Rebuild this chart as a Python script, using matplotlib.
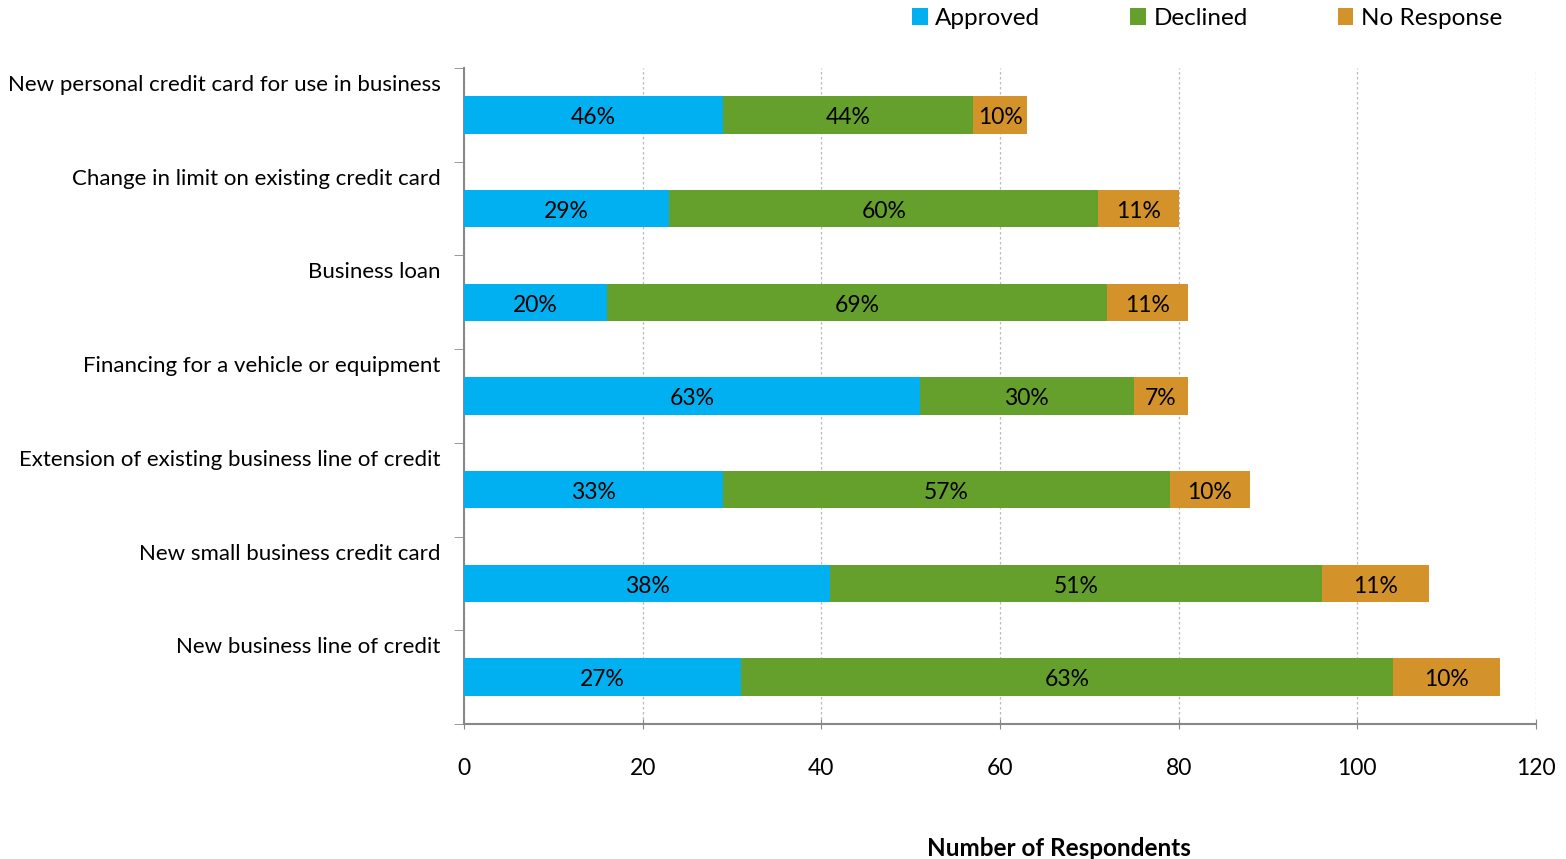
import numpy as np
import matplotlib.pyplot as plt

plt.rcParams['font.family'] = ['Lato', 'DejaVu Sans']

# 数据（从上到下）
categories = ['New personal credit card for use in business',
              'Change in limit on existing credit card',
              'Business loan',
              'Financing for a vehicle or equipment',
              'Extension of existing business line of credit',
              'New small business credit card',
              'New business line of credit']
approved = [29, 23, 16, 51, 29, 41, 31]
declined = [28, 48, 56, 24, 50, 55, 73]
no_resp = [6, 9, 9, 6, 9, 12, 12]
pct_approved = ['46%', '29%', '20%', '63%', '33%', '38%', '27%']
pct_declined = ['44%', '60%', '69%', '30%', '57%', '51%', '63%']
pct_no_resp = ['10%', '11%', '11%', '7%', '10%', '11%', '10%']

colors = ['#00B0F0', '#66A02C', '#D4922A']

fig = plt.figure(figsize=(15.66, 8.59), dpi=100)
ax = fig.add_axes([464/1566, 1-724/859, (1536-464)/1566, (724-68)/859])

y = np.arange(len(categories))
a = np.array(approved)
d = np.array(declined)
n = np.array(no_resp)

b1 = ax.barh(y, a, height=0.4, color=colors[0], label='Approved', zorder=3)
b2 = ax.barh(y, d, left=a, height=0.4, color=colors[1], label='Declined', zorder=3)
b3 = ax.barh(y, n, left=a + d, height=0.4, color=colors[2], label='No Response', zorder=3)

# 百分比标签
for bars, labs in [(b1, pct_approved), (b2, pct_declined), (b3, pct_no_resp)]:
    for rect, lab in zip(bars, labs):
        ax.text(rect.get_x() + rect.get_width() / 2, rect.get_y() + rect.get_height() / 2 + 0.03,
                lab, ha='center', va='center', fontsize=16.5, color='black', zorder=4)

ax.set_ylim(len(categories) - 0.5, -0.5)
ax.set_xlim(0, 120)
ax.set_xticks(np.arange(0, 121, 20))
ax.tick_params(axis='x', labelsize=16.5, pad=21, length=7, color='#888888', direction='inout')

# 类别标签放在刻度下方
ax.set_yticks(y - 0.34)
ax.set_yticklabels(categories, fontsize=16)
ax.tick_params(axis='y', length=0, pad=17)
ax.set_yticks(np.arange(-0.5, len(categories)), minor=True)
ax.tick_params(axis='y', which='minor', length=7, color='#888888', direction='out')

ax.grid(axis='x', linestyle=(0, (2, 2)), color='#bbbbbb', linewidth=0.9, zorder=0)
for s in ['top', 'right']:
    ax.spines[s].set_visible(False)
for s in ['left', 'bottom']:
    ax.spines[s].set_color('#888888')
    ax.spines[s].set_linewidth(1.5)

ax.set_xlabel('Number of Respondents', fontsize=17.5, fontweight='bold')
ax.xaxis.set_label_coords(0.555, -0.172)

fig.legend(loc='upper right', bbox_to_anchor=(0.973, 1.016), ncol=3, frameon=False,
           fontsize=17.5, handlelength=0.65, handleheight=0.65, handletextpad=0.3,
           columnspacing=3.7)

fig.savefig('out.png', dpi=100)
